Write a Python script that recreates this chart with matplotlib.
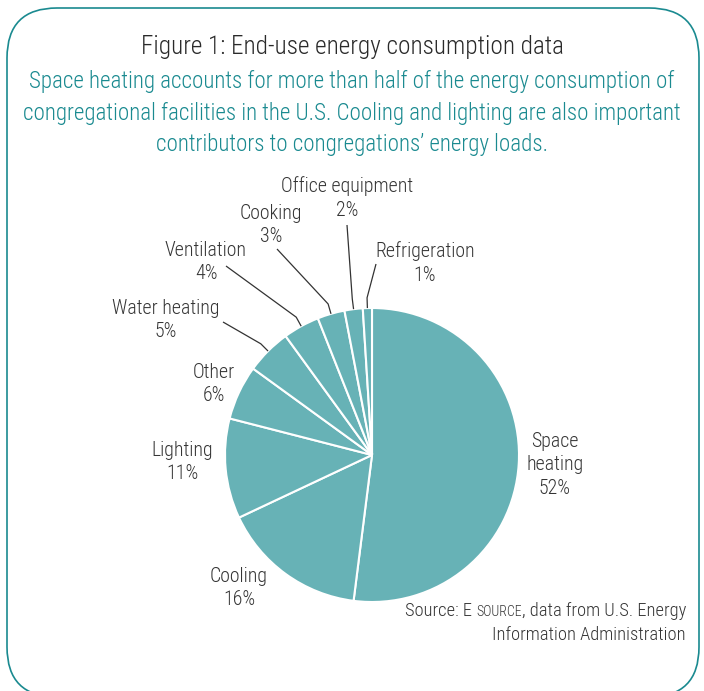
"""End-use energy consumption pie chart for congregational facilities."""

import matplotlib
matplotlib.use("Agg")
import matplotlib.pyplot as plt
import numpy as np
from matplotlib.patches import FancyBboxPatch

# Data.
CATEGORIES = ["Space\nheating", "Cooling", "Lighting", "Other", "Water heating",
              "Ventilation", "Cooking", "Office equipment", "Refrigeration"]
SHARES = [52, 16, 11, 6, 5, 4, 3, 2, 1]

# Label anchor points in pixels (x, y from top) and where a leader line starts.
LABEL_POS = [(555, 465), (239, 588), (182, 462), (214, 384), (166, 320),
             (206, 262), (271, 225), (347, 198), (425, 263)]
LEADER_END = [None, None, None, None, (223, 322), (226, 266), (277, 249),
              (347, 225), (376, 264)]

W, H = 704, 691
PIE_COLOR = "#67b2b6"
TEAL = "#1a8a90"
TEXT = "#353535"

plt.rcParams["font.family"] = ["Roboto Condensed", "DejaVu Sans"]
plt.rcParams["font.weight"] = 300

fig = plt.figure(figsize=(W / 100, H / 100), dpi=100)
ax = fig.add_axes([0, 0, 1, 1])
ax.set_axis_off()


def py(y_px):
    """Convert a top-down pixel row to data y."""
    return H - y_px


# Rounded frame, bottom edge runs off the image.
frame = FancyBboxPatch((7, py(697)), 692, 689,
                       boxstyle="round,pad=0,rounding_size=50",
                       facecolor="none", edgecolor=TEAL, linewidth=1.2)
ax.add_patch(frame)

# Titles.
ax.text(W / 2, py(47), "Figure 1: End-use energy consumption data",
        ha="center", va="center", fontsize=18.2, color="#2a2a2a")
subtitle = ("Space heating accounts for more than half of the energy consumption of\n"
            "congregational facilities in the U.S. Cooling and lighting are also important\n"
            "contributors to congregations\u2019 energy loads.")
ax.text(W / 2, py(113), subtitle, ha="center", va="center", fontsize=16.6,
        color=TEAL, linespacing=1.47)

# Pie.
cx, cy, r = 372, py(455), 147
wedges, _ = ax.pie(SHARES, center=(cx, cy), radius=r, startangle=90,
                   counterclock=False, colors=[PIE_COLOR] * len(SHARES),
                   wedgeprops=dict(edgecolor="white", linewidth=1.5))
ax.set_xlim(0, W)
ax.set_ylim(0, H)
ax.set_aspect("equal")

for wedge, name, share, pos, lead in zip(wedges, CATEGORIES, SHARES,
                                         LABEL_POS, LEADER_END):
    ax.text(pos[0], py(pos[1]), f"{name}\n{share}%", ha="center", va="center",
            fontsize=14.3, color=TEXT, linespacing=1.29)
    if lead is None:
        continue
    mid = np.deg2rad((wedge.theta1 + wedge.theta2) / 2)
    edge = (cx + r * np.cos(mid), cy + r * np.sin(mid))
    elbow = (cx + 1.07 * r * np.cos(mid), cy + 1.07 * r * np.sin(mid))
    ax.plot([edge[0], elbow[0], lead[0]], [edge[1], elbow[1], py(lead[1])],
            color="#333333", linewidth=0.9, solid_capstyle="butt")

# Source note with small-caps "SOURCE", right aligned.
renderer = fig.canvas.get_renderer()
right = 686
pieces = [("Source: E ", 13.3), ("SOURCE", 10), (", data from U.S. Energy", 13.3)]
x = right
for txt, size in reversed(pieces):
    t = ax.text(x, py(616), txt, ha="right", va="baseline", fontsize=size,
                color=TEXT)
    x -= t.get_window_extent(renderer).width
ax.text(right, py(640), "Information Administration", ha="right",
        va="baseline", fontsize=13.3, color=TEXT)

fig.savefig("out.png", dpi=100)
